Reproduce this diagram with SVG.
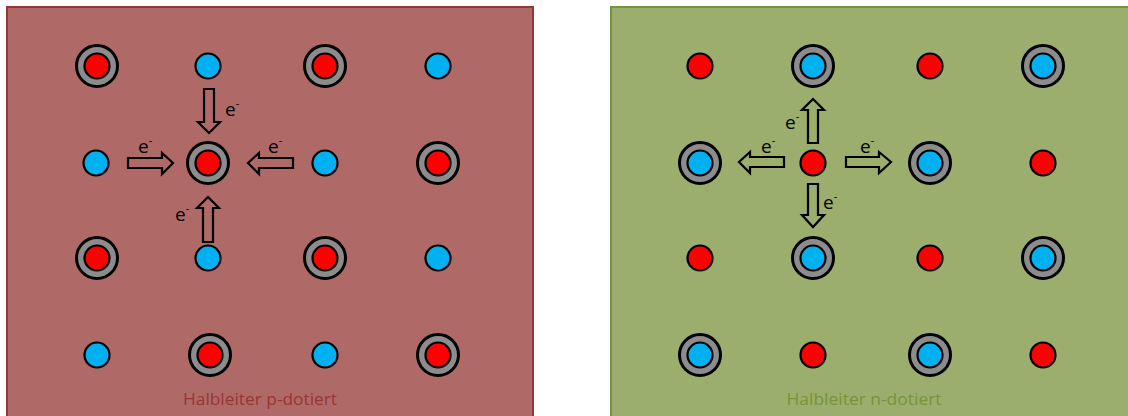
<svg xmlns="http://www.w3.org/2000/svg" width="1128" height="416" viewBox="0 0 1128 416">
<style>
.ring{fill:#8c8c8c;stroke:#000;stroke-width:3}
.red{fill:#ff0000;stroke:#000;stroke-width:2.2}
.blue{fill:#00b0f0;stroke:#000;stroke-width:2.2}
.arr{fill:none;stroke:#000;stroke-width:2.2;stroke-linejoin:miter}
.lbl{font-family:"Open Sans","Liberation Sans",sans-serif;font-size:19px;fill:#000}
.sup{font-size:11px}
.title{font-family:"Open Sans","Liberation Sans",sans-serif;font-size:17px;text-anchor:middle}
</style>
<defs>
<g id="bigRed"><circle r="20.5" class="ring"/><circle r="12.5" class="red"/></g>
<g id="bigBlue"><circle r="20.5" class="ring"/><circle r="12.5" class="blue"/></g>
<circle id="smRed" r="12.5" class="red"/>
<circle id="smBlue" r="12.5" class="blue"/>
</defs>
<g id="panel-p">
<rect x="7" y="7" width="526" height="420" fill="#af6a68" stroke="#953735" stroke-width="2"/>
<text class="title" x="260" y="405" fill="#953735" textLength="154" lengthAdjust="spacingAndGlyphs">Halbleiter p-dotiert</text>
</g>
<g id="panel-n">
<rect x="611" y="7" width="530" height="420" fill="#9bae6e" stroke="#77933c" stroke-width="2"/>
<text class="title" x="864" y="405" fill="#77933c" textLength="155" lengthAdjust="spacingAndGlyphs">Halbleiter n-dotiert</text>
</g>
<g id="atoms-p">
<use href="#bigRed" x="97" y="66"/><use href="#smBlue" x="208" y="66"/><use href="#bigRed" x="325" y="66"/><use href="#smBlue" x="438" y="66"/>
<use href="#smBlue" x="96" y="163"/><use href="#bigRed" x="208" y="163"/><use href="#smBlue" x="325" y="163"/><use href="#bigRed" x="438" y="163"/>
<use href="#bigRed" x="97" y="258"/><use href="#smBlue" x="208" y="258"/><use href="#bigRed" x="325" y="258"/><use href="#smBlue" x="438" y="258"/>
<use href="#smBlue" x="97" y="355"/><use href="#bigRed" x="210" y="355"/><use href="#smBlue" x="325" y="355"/><use href="#bigRed" x="438" y="355"/>
</g>
<g id="atoms-n">
<use href="#smRed" x="700" y="66"/><use href="#bigBlue" x="813" y="66"/><use href="#smRed" x="930" y="66"/><use href="#bigBlue" x="1043" y="66"/>
<use href="#bigBlue" x="700" y="163"/><use href="#smRed" x="813" y="163"/><use href="#bigBlue" x="930" y="163"/><use href="#smRed" x="1043" y="163"/>
<use href="#smRed" x="700" y="258"/><use href="#bigBlue" x="813" y="258"/><use href="#smRed" x="930" y="258"/><use href="#bigBlue" x="1043" y="258"/>
<use href="#bigBlue" x="700" y="355"/><use href="#smRed" x="813" y="355"/><use href="#bigBlue" x="930" y="355"/><use href="#smRed" x="1043" y="355"/>
</g>
<g id="connectors">
<path class="arr" d="M204,89 H214 V122 H220 L209,133 L198,122 H204 Z"/>
<path class="arr" d="M128,158 H162 V153 L173,163 L162,174 V168 H128 Z"/>
<path class="arr" d="M293,158 H259 V153 L248,163 L259,174 V168 H293 Z"/>
<path class="arr" d="M203,242 H213 V208 H219 L208,197 L197,208 H203 Z"/>
<path class="arr" d="M808,143 H818 V110 H824 L813,99 L802,110 H808 Z"/>
<path class="arr" d="M784,157 H750 V152 L739,162 L750,173 V167 H784 Z"/>
<path class="arr" d="M846,157 H879 V152 L891,162 L879,173 V167 H846 Z"/>
<path class="arr" d="M808,184 H818 V215 H824 L813,227 L802,215 H808 Z"/>
</g>
<g id="labels">
<text class="lbl" x="225" y="116">e<tspan class="sup" dy="-9">-</tspan></text>
<text class="lbl" x="138" y="153">e<tspan class="sup" dy="-9">-</tspan></text>
<text class="lbl" x="268" y="153">e<tspan class="sup" dy="-9">-</tspan></text>
<text class="lbl" x="175" y="221">e<tspan class="sup" dy="-9">-</tspan></text>
<text class="lbl" x="785" y="129">e<tspan class="sup" dy="-9">-</tspan></text>
<text class="lbl" x="761" y="153">e<tspan class="sup" dy="-9">-</tspan></text>
<text class="lbl" x="860" y="153">e<tspan class="sup" dy="-9">-</tspan></text>
<text class="lbl" x="823" y="209">e<tspan class="sup" dy="-9">-</tspan></text>
</g>
</svg>
